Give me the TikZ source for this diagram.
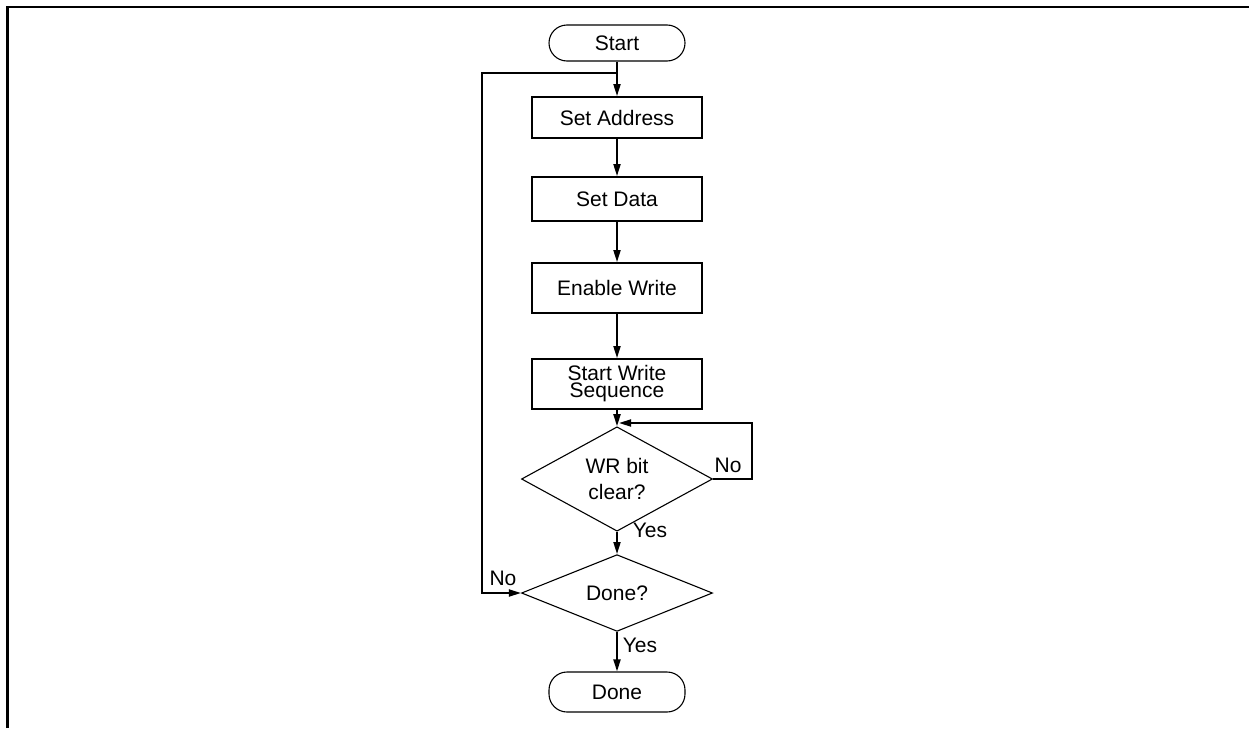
\documentclass[tikz,border=0pt]{standalone}
\usepackage{fontspec}
\setmainfont{Liberation Sans}
\usetikzlibrary{arrows.meta,shapes.geometric}
\begin{document}
\begin{tikzpicture}[x=1pt,y=-1pt,
  font=\fontsize{21}{17}\selectfont,
  every node/.style={inner sep=0pt},
  proc/.style={draw,line width=1.8pt,minimum width=170pt,align=center},
  term/.style={draw,line width=1.1pt,minimum width=136pt,rounded corners=18pt},
  dec/.style={draw,diamond,line width=1.1pt,minimum width=191pt,minimum height=70pt,align=center},
  conn/.style={line width=1.8pt,-{Triangle[length=12pt,width=7pt]}},
  lbl/.style={font=\fontsize{21}{24}\selectfont}]
\useasboundingbox (0,0) rectangle (1249,728);
\draw[line width=2.4pt] (7.5,728) -- (7.5,7) -- (1249,7);

\node[term,minimum height=36pt] (start) at (617,43) {Start};
\node[proc,minimum height=41pt] (sa) at (617,117.5) {Set Address};
\node[proc,minimum height=44pt] (sd) at (617,199) {Set Data};
\node[proc,minimum height=50pt] (ew) at (617,288) {Enable Write};
\node[proc,minimum height=50pt] (sw) at (617,384) {Start Write\\Sequence};
\node[dec,font=\fontsize{21}{26}\selectfont] (wr) at (617,479) {WR bit\\clear?};
\node[dec] (dn) at (617,593) {Done?};
\node[term,minimum height=40pt] (done) at (617,692) {Done};

\coordinate (j) at (617,73);
\coordinate (lc) at (482,73);
\coordinate (rc) at (752,423);
\coordinate (m) at (619,423);

\draw[conn] (start) -- (sa);
\draw[conn] (sa) -- (sd);
\draw[conn] (sd) -- (ew);
\draw[conn] (ew) -- (sw);
\draw[conn] (sw) -- (wr);
\draw[conn] (wr) -- (dn);
\draw[conn] (dn) -- (done);
\draw[conn] (j) -- (lc) |- (dn.west);
\draw[conn] (wr.east) -| (rc) -- (m);

\node[lbl] (l1) at (728,465) {No};
\node[lbl] (l2) at (650,530) {Yes};
\node[lbl] (l3) at (503,578) {No};
\node[lbl] (l4) at (640,645) {Yes};
\end{tikzpicture}
\end{document}
